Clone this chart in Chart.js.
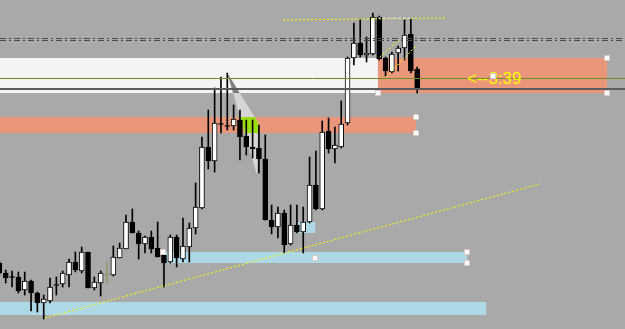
<!DOCTYPE html>
<html>
<head>
<meta charset="utf-8">
<script src="https://cdn.jsdelivr.net/npm/chart.js@4.4.0/dist/chart.umd.min.js"></script>
<style>
  html, body { margin:0; padding:0; background:#a9a9a9; overflow:hidden; }
  #wrap { width:625px; height:329px; }
</style>
</head>
<body>
<div id="wrap"><canvas id="chart" width="625" height="329"></canvas></div>
<script>
// candles, prices in points (bottom of window = 0)
const opens  = [66,56,52,52,39,48,36,26,28,44, 45,54,67,58,77,41,46,54,54,71, 80,107,96,85,92,81,74,67,92,70,
                82,101,121,182,168,205,203,203,209,193, 182,181,170,109,102,116,85,104,97,107,
                144,120,198,180,182,206,271,286,274,275, 312,271,257,276,281,295,260];
const highs  = [68,59,58,57,57,49,37,34,51,52, 58,70,77,82,77,52,58,67,83,86, 114,120,98,93,98,107,78,94,94,111,
                106,146,192,219,241,252,256,224,219,209, 209,204,194,124,122,119,124,124,122,172,
                178,208,211,202,228,272,306,310,292,316, 313,272,277,283,309,310,262];
const lows   = [54,46,42,36,34,18,17,10,26,34, 42,42,57,56,41,39,33,46,53,71, 80,96,70,76,76,72,42,66,62,67,
                67,95,120,160,157,196,199,199,169,174, 171,156,109,95,91,76,84,96,76,106,
                119,119,176,166,181,204,264,272,267,274, 269,253,256,258,269,256,236];
const closes = [56,51,52,38,48,36,26,30,42,44, 56,67,59,77,41,47,56,54,72,81, 107,96,85,92,80,72,66,92,71,83,
                101,122,182,168,206,205,203,210,192,182, 180,170,109,102,116,84,104,97,107,144,
                120,197,180,184,205,271,286,274,276,312, 270,258,275,281,294,258,240];
const oliveCandle = 17;

// zones: [fromBar, toBar, low, high]
const whiteZone  = [-1, 59.8, 236, 271];
const salmonTop  = [59.8, 96.0, 236, 271];
const salmonMid  = [-1, 65.8, 196, 212];
const blueLow    = [-1, 76.9, 14, 27];
const blueMid    = [25.8, 73.9, 66, 77];
const blueSmall  = [47.0, 49.9, 96, 107];

// horizontal levels
const oliveLevel = 251;
const greyLevel = 240;
const dashDotLevel = 290.5;

// trend lines: [bar1, price1, bar2, price2]
const trendMain   = [7.2, 11, 85.4, 145];
const trendTop    = [44.8, 309, 70.7, 311];
const trendLilac  = [59.8, 311, 64.9, 311];
const trendShort1 = [60.1, 272, 63.3, 290];
const trendShort2 = [61.1, 252, 65.8, 283];

const triangle = [[36.0, 256], [40.9, 206], [40.7, 154]];

const timerText = '<--3:39';
const timerPos = [73.9, 245];

const handles = [[96.0,271],[96.0,236],[59.8,236],[77.9,253],[65.8,212],[65.8,196],
                 [25.8,77],[73.9,77],[73.9,66],[49.9,71]];

const bars = opens.map((_, i) => i);
const wickData = bars.map(i => ({ x: i, y: [lows[i], highs[i]] }));
const bodyData = bars.map(i => {
  let lo = Math.min(opens[i], closes[i]), hi = Math.max(opens[i], closes[i]);
  if (hi - lo < 1) { lo -= 0.5; hi += 0.5; }
  return { x: i, y: [lo, hi] };
});
const bodyFill = bars.map(i => i === oliveCandle ? '#8f9c68' : (closes[i] > opens[i] ? '#ffffff' : '#000000'));
const lineCol = bars.map(i => i === oliveCandle ? '#8f9c68' : '#000000');

const overlay = {
  id: 'overlay',
  beforeDraw(chart) {
    const c = chart.ctx;
    c.save(); c.fillStyle = '#a9a9a9'; c.fillRect(0, 0, chart.width, chart.height); c.restore();
  },
  beforeDatasetsDraw(chart) {
    const c = chart.ctx, xs = chart.scales.x, ys = chart.scales.y;
    const px = v => xs.getPixelForValue(v), py = v => ys.getPixelForValue(v);
    const zone = (z, col) => { c.fillStyle = col; c.fillRect(px(z[0]), py(z[3]), px(z[1]) - px(z[0]), py(z[2]) - py(z[3])); };
    c.save();
    zone(whiteZone, '#f4f4f4');
    zone(salmonTop, '#e9967a');
    zone(salmonMid, '#e9967a');
    zone(blueLow, '#add8e6');
    zone(blueMid, '#add8e6');
    zone(blueSmall, '#add8e6');
    // triangle, coloured by what lies under it
    c.beginPath();
    triangle.forEach((p, k) => k ? c.lineTo(px(p[0]), py(p[1])) : c.moveTo(px(p[0]), py(p[1])));
    c.closePath();
    c.clip();
    c.fillStyle = '#d6d6d6'; c.fillRect(0, 0, chart.width, chart.height);
    zone(whiteZone, '#7e7e7e');
    zone(salmonMid, '#9ade12');
    c.restore();
  },
  afterDatasetsDraw(chart) {
    const c = chart.ctx, xs = chart.scales.x, ys = chart.scales.y;
    const px = v => xs.getPixelForValue(v), py = v => ys.getPixelForValue(v);
    const W = chart.width;
    c.save();
    // horizontal levels
    c.lineWidth = 1; c.strokeStyle = '#6b8e23';
    c.beginPath(); c.moveTo(0, Math.round(py(oliveLevel)) + 0.5); c.lineTo(W, Math.round(py(oliveLevel)) + 0.5); c.stroke();
    c.lineWidth = 2; c.strokeStyle = '#5c5c5c';
    c.beginPath(); c.moveTo(0, py(greyLevel)); c.lineTo(W, py(greyLevel)); c.stroke();
    c.lineWidth = 1; c.strokeStyle = '#3f4c4c'; c.setLineDash([6, 3, 2, 3]);
    [-1, 1].forEach(d => {
      const y = Math.round(py(dashDotLevel) + d) + 0.5;
      c.beginPath(); c.moveTo(0, y); c.lineTo(W, y); c.stroke();
    });
    // trend lines
    const seg = (t, col, dash) => {
      c.strokeStyle = col; c.setLineDash(dash); c.lineWidth = 1;
      c.beginPath(); c.moveTo(px(t[0]), py(t[1])); c.lineTo(px(t[2]), py(t[3])); c.stroke();
    };
    seg(trendMain, '#ffff00', [2, 2]);
    seg(trendTop, '#ffff00', [2, 2]);
    seg(trendLilac, '#d9d2f2', [3, 2]);
    seg(trendShort1, '#ffff00', [2, 2]);
    seg(trendShort2, '#ffff00', [2, 2]);
    c.setLineDash([]);
    // timer label
    c.fillStyle = '#ffff00';
    c.font = '17px "Liberation Sans", Arial, sans-serif';
    c.textBaseline = 'alphabetic';
    c.fillText(timerText, px(timerPos[0]), py(timerPos[1]));
    // object handles
    handles.forEach(h => {
      const x = Math.round(px(h[0])), y = Math.round(py(h[1]));
      c.fillStyle = '#ffffff'; c.fillRect(x - 2, y - 2, 4, 4);
      c.strokeStyle = '#d8c8c0'; c.lineWidth = 1; c.strokeRect(x - 2.5, y - 2.5, 5, 5);
    });
    c.restore();
  }
};

new Chart(document.getElementById('chart'), {
  type: 'bar',
  data: {
    datasets: [
      { data: bodyData, backgroundColor: bodyFill, borderColor: lineCol, borderWidth: 1,
        borderSkipped: false, barThickness: 5, grouped: false, order: 1 },
      { data: wickData, backgroundColor: lineCol, borderWidth: 0,
        barThickness: 1, grouped: false, order: 2 }
    ]
  },
  options: {
    responsive: false,
    animation: false,
    layout: { padding: 0 },
    plugins: { legend: { display: false }, tooltip: { enabled: false } },
    scales: {
      x: { type: 'linear', min: 0.095, max: 98.83, offset: false, display: false },
      y: { min: 0, max: 329, display: false }
    }
  },
  plugins: [overlay]
});
</script>
</body>
</html>
